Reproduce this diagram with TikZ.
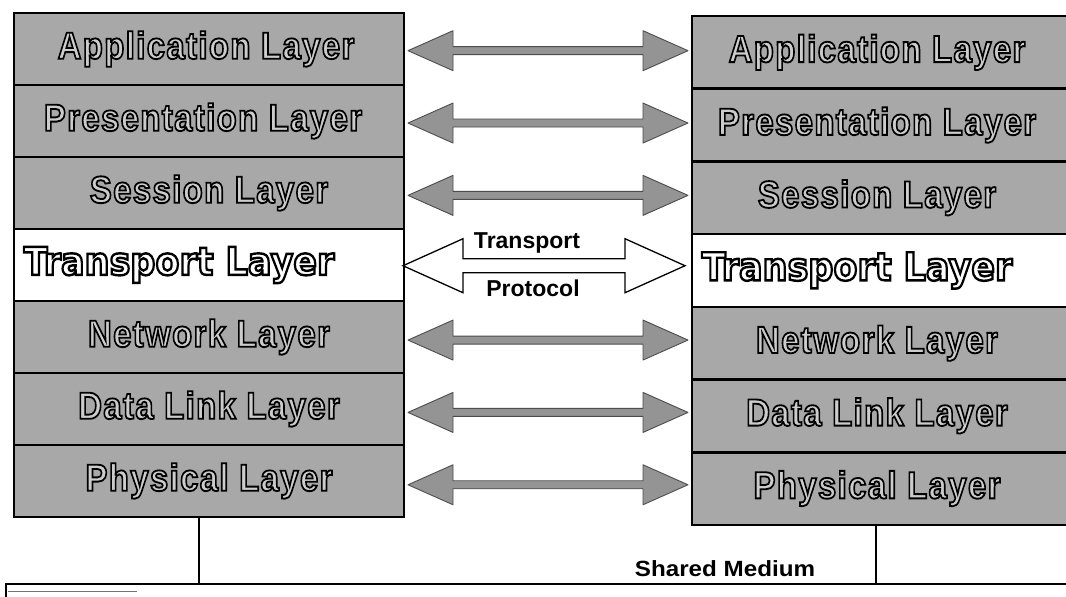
\documentclass[tikz,border=0pt]{standalone}
\usepackage{fontspec}
\usepackage{graphicx}
\setmainfont{Liberation Sans}
\newfontfamily\layfont[LetterSpace=4]{Liberation Sans}
\newfontfamily\tpfont{DejaVu Sans}
\usetikzlibrary{calc}
\definecolor{gfill}{gray}{0.66}
\definecolor{gletter}{gray}{0.80}
\definecolor{garrfill}{gray}{0.58}

% outlined text (fill + black stroke): #1 fill colour, #2 stroke width, #3 text
\newcommand\strk[3]{\textcolor{#1}{\special{pdf:literal direct 2 Tr #2 w 0 G}#3\special{pdf:literal direct 0 Tr}}}
\newcommand\grayLab[1]{\scalebox{1}[1.15]{\strk{gletter}{1.6}{#1}}}
\newcommand\whiteLab[1]{\scalebox{1}[1.1]{\strk{white}{2.2}{#1}}}

% double-headed block arrow: #1 style, #2 left tip, #3 right tip,
% #4 head length, #5 head half height, #6 shaft half height
\newcommand\dblarr[6]{%
  \path[#1] (#2) -- ++(#4,-#5) -- ++(0,#5-#6) -- ($(#3)+(-#4,-#6)$)
    -- ++(0,#6-#5) -- (#3) -- ++(-#4,#5) -- ++(0,#6-#5)
    -- ($(#2)+(#4,#6)$) -- ++(0,#5-#6) -- cycle;}

\tikzset{
  rowbox/.style={draw=black, line width=2.6pt, inner sep=0pt, outer sep=0pt},
  rowL/.style={rowbox, minimum width=390pt, minimum height=72pt},
  rowR/.style={rowbox, minimum width=388pt, minimum height=72.7pt},
  lay/.style={inner sep=0pt, font=\layfont\bfseries\fontsize{33}{36}\selectfont},
  tlay/.style={inner sep=0pt, font=\tpfont\bfseries\fontsize{35}{38}\selectfont},
  garr/.style={fill=garrfill, draw=black!70, line width=0.9pt, line join=round},
  tarr/.style={fill=white, draw=black, line width=1.3pt, line join=miter},
  plain/.style={inner sep=0pt, font=\bfseries\fontsize{23}{26}\selectfont},
  bus/.style={draw=black, line width=1.3pt},
}

\begin{document}
\begin{tikzpicture}[x=1pt,y=-1pt]
\useasboundingbox (0,0) rectangle (1066,597);
\clip (0,0) rectangle (1066,597);
\fill[white] (0,0) rectangle (1066,597);

% left stack
\foreach \i/\f in {1/gfill,2/gfill,3/gfill,4/white,5/gfill,6/gfill,7/gfill}{
  \node[rowL, fill=\f] (L\i) at (209,{49+72*(\i-1)}) {};
}
% right stack (extends past right edge)
\foreach \i/\f in {1/gfill,2/gfill,3/gfill,4/white,5/gfill,6/gfill,7/gfill}{
  \node[rowR, fill=\f] (R\i) at (886,{52.35+72.7*(\i-1)}) {};
}

% labels
\node[lay] (lt1) at ($(L1.center)+(-3,0)$) {\grayLab{Application Layer}};
\node[lay] (lt2) at ($(L2.center)+(-6,0)$) {\grayLab{Presentation Layer}};
\node[lay] (lt3) at (L3.center) {\grayLab{Session Layer}};
\node[tlay] (lt4) at ($(L4.center)+(-30,0)$) {\whiteLab{Transport Layer}};
\node[lay] (lt5) at (L5.center) {\grayLab{Network Layer}};
\node[lay] (lt6) at (L6.center) {\grayLab{Data Link Layer}};
\node[lay] (lt7) at (L7.center) {\grayLab{Physical Layer}};

\node[lay] (rt1) at ($(R1.center)+(-9,0)$) {\grayLab{Application Layer}};
\node[lay] (rt2) at ($(R2.center)+(-9,0)$) {\grayLab{Presentation Layer}};
\node[lay] (rt3) at ($(R3.center)+(-9,0)$) {\grayLab{Session Layer}};
\node[tlay] (rt4) at ($(R4.center)+(-29,0)$) {\whiteLab{Transport Layer}};
\node[lay] (rt5) at ($(R5.center)+(-9,0)$) {\grayLab{Network Layer}};
\node[lay] (rt6) at ($(R6.center)+(-9,0)$) {\grayLab{Data Link Layer}};
\node[lay] (rt7) at ($(R7.center)+(-9,0)$) {\grayLab{Physical Layer}};

% arrows between peer layers
\foreach \i in {1,2,3,5,6,7}{
  \coordinate (m\i) at ($(L\i.east)!.5!(R\i.west)$);
  \coordinate (a\i) at ($(L\i.east |- m\i)+(4,0)$);
  \coordinate (b\i) at ($(R\i.west |- m\i)+(-4,0)$);
  \dblarr{garr}{a\i}{b\i}{45}{20}{4}
}
% transport protocol arrow
\coordinate (m4) at ($(L4.east)!.5!(R4.west)$);
\coordinate (a4) at ($(L4.east |- m4)+(-1,-2)$);
\coordinate (b4) at ($(R4.west |- m4)+(-7,-2)$);
\dblarr{tarr}{a4}{b4}{60}{27}{7}
\node[plain] (tp1) at (527,243) {Transport};
\node[plain] (tp2) at (533,288) {Protocol};

% shared medium
\coordinate (bus) at (0,584);
\coordinate (sL) at ($(L7.south)+(-10,0)$);
\coordinate (sR) at ($(R7.south)+(-10,0)$);
\draw[bus] (sL) -- (sL |- bus);
\draw[bus] (sR) -- (sR |- bus);
\draw[bus] (6,599) -- (6,584) -- (1070,584);
\draw[black!55, line width=1pt] (8,591) -- (137,591);
\node[plain, font=\bfseries\fontsize{22}{24}\selectfont] (sm) at (725,569) {\scalebox{1.1}[1]{Shared Medium}};
\end{tikzpicture}
\end{document}
